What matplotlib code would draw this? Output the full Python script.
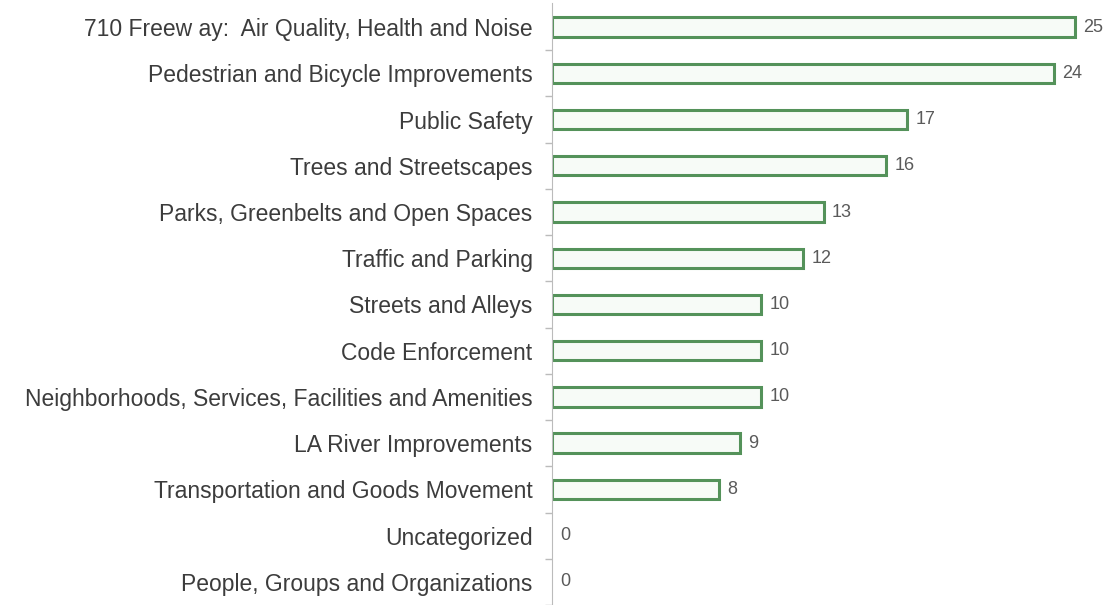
import numpy as np
import matplotlib as mpl
mpl.use('Agg')
import matplotlib.pyplot as plt

categories = ['710 Freew ay:  Air Quality, Health and Noise',
              'Pedestrian and Bicycle Improvements',
              'Public Safety',
              'Trees and Streetscapes',
              'Parks, Greenbelts and Open Spaces',
              'Traffic and Parking',
              'Streets and Alleys',
              'Code Enforcement',
              'Neighborhoods, Services, Facilities and Amenities',
              'LA River Improvements',
              'Transportation and Goods Movement',
              'Uncategorized',
              'People, Groups and Organizations']
counts = [25, 24, 17, 16, 13, 12, 10, 10, 10, 9, 8, 0, 0]

plt.rcParams['font.family'] = ['Liberation Sans', 'DejaVu Sans']

fig = plt.figure(figsize=(11.11, 6.05), dpi=100)
# axes spans from the left spine to the right edge, top at ~3px
ax = fig.add_axes([552/1111, 0, 559/1111, 602/605])

y = np.arange(len(categories))
lw = [2.2 if v > 0 else 0 for v in counts]
ax.barh(y, counts, height=0.42, color='#f7fbf7', edgecolor='#54925a', linewidth=lw)
for yi, v in zip(y, counts):
    ax.text(v + 0.4, yi, str(v), va='center', ha='left', fontsize=13, color='#5a5a5a')

ax.set_xlim(0, 559/20.9)
ax.set_ylim(12.287, -0.521)
ax.set_yticks(y)
ax.set_yticklabels(categories, fontsize=16.5, color='#3c3c3c')
ax.set_yticks(y + 0.5, minor=True)
ax.tick_params(axis='y', which='major', length=0, pad=14)
ax.tick_params(axis='y', which='minor', length=5, color='#bbbbbb', width=1)
ax.set_xticks([])
for s in ['top', 'right', 'bottom']:
    ax.spines[s].set_visible(False)
ax.spines['left'].set_color('#bbbbbb')

fig.savefig('out.png')
